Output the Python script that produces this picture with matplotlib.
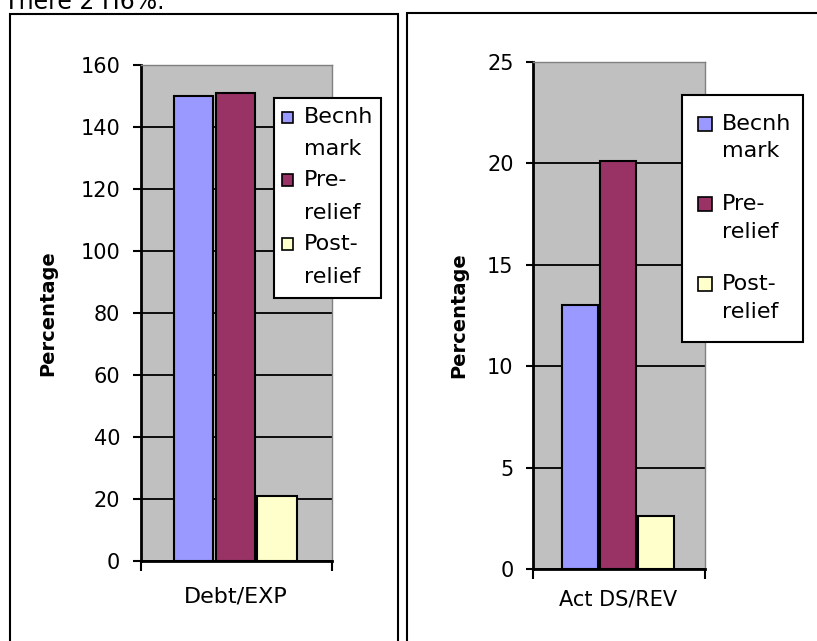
import matplotlib.pyplot as plt
from matplotlib.patches import Rectangle

plt.rcParams['font.family'] = ['DejaVu Sans']

series = ['Becnh\nmark', 'Pre-\nrelief', 'Post-\nrelief']
colors = ['#9999ff', '#993366', '#ffffcc']

left_category = 'Debt/EXP'
left_values = [150, 151, 21]
left_ticks = [0, 20, 40, 60, 80, 100, 120, 140, 160]

right_category = 'Act DS/REV'
right_values = [13, 20.1, 2.6]
right_ticks = [0, 5, 10, 15, 20, 25]

W, H = 817, 641
fig = plt.figure(figsize=(W / 100, H / 100), dpi=100)


def fx(x):
    return x / W


def fy(y):
    return 1 - y / H


# panel frames (chart objects)
fig.patches.append(Rectangle((fx(10), fy(660)), fx(388), fy(14) - fy(660),
                             transform=fig.transFigure, fill=False,
                             edgecolor='black', linewidth=1.5))
fig.patches.append(Rectangle((fx(407), fy(660)), fx(430), fy(13) - fy(660),
                             transform=fig.transFigure, fill=False,
                             edgecolor='black', linewidth=1.5))

# heading above the charts, clipped by the page edge
fig.text(fx(4), fy(9), 'There 2 H6%.', fontsize=17, va='baseline', ha='left')


def draw_panel(rect, values, ticks, category, fsize, cat_size, cat_pad, ticklen,
               label_x, leg_box, handle_x, hsize, text_x, line_ys):
    ax = fig.add_axes(rect)
    ax.set_facecolor('#c0c0c0')
    pos = range(len(values))
    ax.bar(pos, values, width=0.95, color=colors, edgecolor='black',
           linewidth=1.5, zorder=3)
    ax.set_xlim(-1.25, 3.3)
    ax.set_ylim(0, ticks[-1])
    ax.set_yticks(ticks)
    ax.yaxis.grid(True, color='black', linewidth=1.3, zorder=1)
    ax.set_axisbelow(True)
    ax.tick_params(axis='y', length=ticklen, width=1.5, pad=9, labelsize=fsize)
    ax.set_xticks([1])
    ax.set_xticklabels([category])
    ax.tick_params(axis='x', length=0, pad=cat_pad, labelsize=cat_size)
    ax.set_xticks([-1.25, 3.3], minor=True)
    ax.tick_params(axis='x', which='minor', length=7, width=1.5)
    for s in ['left', 'bottom']:
        ax.spines[s].set_linewidth(2)
        ax.spines[s].set_color('black')
    for s in ['top', 'right']:
        ax.spines[s].set_linewidth(1)
        ax.spines[s].set_color('#808080')
    ax.set_ylabel('Percentage', fontsize=14, fontweight='bold')
    ax.yaxis.set_label_coords(label_x, 0.5)

    # legend drawn as a box like the original chart
    x0, y0, x1, y1 = leg_box
    fig.patches.append(Rectangle((fx(x0), fy(y1)), fx(x1 - x0), fy(y0) - fy(y1),
                                 transform=fig.transFigure, facecolor='white',
                                 edgecolor='black', linewidth=1.5, zorder=5))
    for i, name in enumerate(series):
        first, second = name.split('\n')
        ya, yb = line_ys[2 * i], line_ys[2 * i + 1]
        fig.patches.append(Rectangle((fx(handle_x), fy(ya + hsize / 2)),
                                     fx(hsize), fy(ya - hsize / 2) - fy(ya + hsize / 2),
                                     transform=fig.transFigure, facecolor=colors[i],
                                     edgecolor='black', linewidth=1.2, zorder=6))
        fig.text(fx(text_x), fy(ya), first, fontsize=16, va='center', zorder=7)
        fig.text(fx(text_x), fy(yb), second, fontsize=16, va='center', zorder=7)
    return ax


draw_panel([fx(141), fy(561), fx(191), fy(65) - fy(561)], left_values, left_ticks,
           left_category, 15, 16, 18, 6, -0.44,
           (274, 98, 381, 298), 282, 11, 304, [117, 149, 180, 213, 244, 277])

draw_panel([fx(533), fy(569), fx(172), fy(62) - fy(569)], right_values, right_ticks,
           right_category, 15, 15, 15, 5, -0.378,
           (682, 95, 803, 342), 698, 14, 722, [124, 151, 204, 232, 284, 312])

fig.savefig('out.png', dpi=100)
